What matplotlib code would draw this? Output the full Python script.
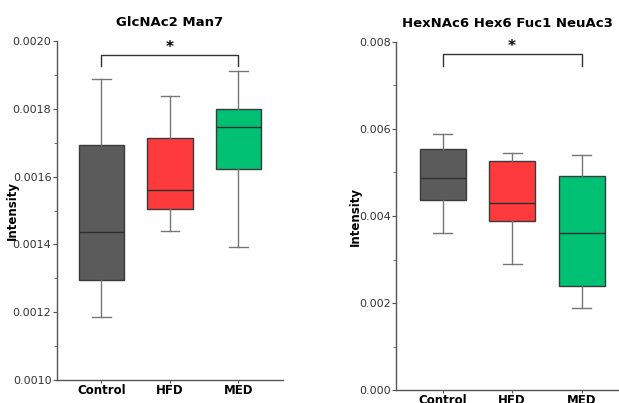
import matplotlib
matplotlib.use("Agg")
import matplotlib.pyplot as plt
from matplotlib.ticker import MultipleLocator, FormatStrFormatter

groups = ["Control", "HFD", "MED"]
colors = ["#5b5b5b", "#ff3a3d", "#00c073"]

# box stats: whisker low, q1, median, q3, whisker high
glc_low = [0.001186, 0.001440, 0.001392]
glc_q1 = [0.001295, 0.001504, 0.001622]
glc_med = [0.001437, 0.001560, 0.001746]
glc_q3 = [0.001693, 0.001714, 0.001799]
glc_high = [0.001888, 0.001838, 0.001911]

hex_low = [0.00361, 0.00290, 0.00189]
hex_q1 = [0.00437, 0.00389, 0.00239]
hex_med = [0.00487, 0.00430, 0.00361]
hex_q3 = [0.00554, 0.00526, 0.00492]
hex_high = [0.00589, 0.00545, 0.00540]


def make_stats(low, q1, med, q3, high):
    return [dict(whislo=a, q1=b, med=c, q3=d, whishi=e, label=g)
            for a, b, c, d, e, g in zip(low, q1, med, q3, high, groups)]


def draw_panel(ax, stats, title, ylim, major, minor, fmt, bracket, drop, label_x):
    bp = ax.bxp(stats, positions=range(len(stats)), widths=0.66,
                patch_artist=True, showfliers=False, capwidths=0.27,
                boxprops=dict(edgecolor="#3a3a3a", linewidth=1.0),
                medianprops=dict(color="#2e2e2e", linewidth=1.0),
                whiskerprops=dict(color="#767676", linewidth=1.0),
                capprops=dict(color="#767676", linewidth=1.0))
    for patch, c in zip(bp["boxes"], colors):
        patch.set_facecolor(c)
    ax.set_ylim(*ylim)
    ax.yaxis.set_major_locator(MultipleLocator(major))
    ax.yaxis.set_minor_locator(MultipleLocator(minor))
    ax.yaxis.set_major_formatter(FormatStrFormatter(fmt))
    for s in ["top", "right"]:
        ax.spines[s].set_visible(False)
    for s in ["left", "bottom"]:
        ax.spines[s].set_color("#555555")
        ax.spines[s].set_linewidth(1.0)
    ax.tick_params(axis="y", labelsize=8, length=3, pad=1, color="#555555", labelcolor="#333333")
    ax.tick_params(axis="y", which="minor", length=2, color="#555555")
    ax.tick_params(axis="x", labelsize=8.5, length=2, pad=1, color="#555555")
    for lbl in ax.get_xticklabels():
        lbl.set_fontweight("bold")
    ax.set_ylabel("Intensity", fontsize=8.5, fontweight="bold")
    ax.yaxis.set_label_coords(label_x, 0.5)
    ax.set_title(title, fontsize=9.5, fontweight="bold", pad=11)
    # significance bracket between Control and MED
    ax.plot([0, 0, 2, 2], [drop, bracket, bracket, drop], color="#333333", linewidth=1.0,
            clip_on=False)
    ax.text(1, bracket, "*", ha="center", va="bottom", fontsize=11, fontweight="bold")


fig = plt.figure(figsize=(6.19, 4.03), dpi=100)
ax1 = fig.add_axes([0.092, 0.057, 0.365, 0.841])
ax2 = fig.add_axes([0.640, 0.032, 0.358, 0.864])

draw_panel(ax1, make_stats(glc_low, glc_q1, glc_med, glc_q3, glc_high),
           "GlcNAc2 Man7", (0.0010, 0.0020), 0.0002, 0.0001, "%.4f",
           0.00196, 0.001926, -0.17)
ax1.set_xlim(-0.65, 2.65)

draw_panel(ax2, make_stats(hex_low, hex_q1, hex_med, hex_q3, hex_high),
           "HexNAc6 Hex6 Fuc1 NeuAc3", (0.0, 0.008), 0.002, 0.001, "%.3f",
           0.00772, 0.00745, -0.155)
ax2.set_xlim(-0.67, 2.52)

fig.savefig("out.png", dpi=100)
